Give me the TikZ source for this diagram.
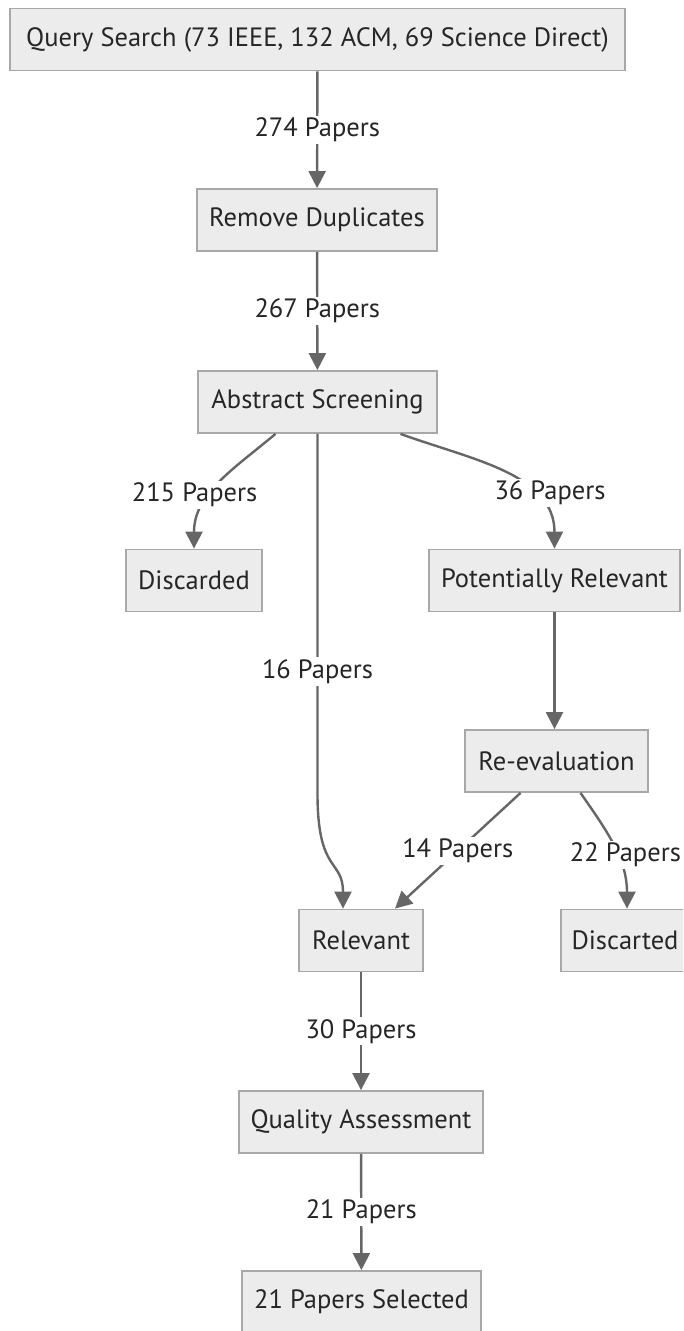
\documentclass[tikz,border=0pt]{standalone}
\usepackage{fontspec}
\setmainfont{PT Sans}
\usepackage{tikz}
\usetikzlibrary{arrows.meta,positioning}
\definecolor{boxfill}{HTML}{ECECEC}
\definecolor{boxline}{HTML}{A8A8A8}
\definecolor{edgegray}{HTML}{666666}

\begin{document}
\begin{tikzpicture}[x=1pt,y=-1pt,font=\fontsize{26.5}{30}\selectfont,
   box/.style={draw=boxline,line width=1.8pt,fill=boxfill,minimum height=62pt,
               inner xsep=0pt,align=center,text=black!85},
   arr/.style={draw=edgegray,line width=2.4pt,-{Triangle[length=17pt,width=17pt]}},
   lbl/.style={fill=white,inner sep=2pt,text=black!85}]
  \useasboundingbox (0,0) rectangle (683,1331);
  \clip (0,0) rectangle (683,1331);
  \node[box,minimum width=615pt] (qs) at (317.5,39.5) {Query Search (73 IEEE, 132 ACM, 69 Science Direct)};
  \node[box,minimum width=240pt] (rd) at (317,220) {Remove Duplicates};
  \node[box,minimum width=239pt] (as) at (317.5,402) {Abstract Screening};
  \node[box,minimum width=136pt] (dc1) at (194,580.5) {Discarded};
  \node[box,minimum width=251pt] (pr) at (554.5,580.5) {Potentially Relevant};
  \node[box,minimum width=183pt] (re) at (556.5,761) {Re-evaluation};
  \node[box,minimum width=124pt] (rel) at (361,940.5) {Relevant};
  \node[box,minimum width=128pt] (dc2) at (625,940.5) {Discarted};
  \node[box,minimum width=244pt] (qa) at (361,1122) {Quality Assessment};
  \node[box,minimum width=239pt] (sel) at (361.5,1302) {21 Papers Selected};

  \draw[arr] (qs) -- node[lbl]{274 Papers} (rd);
  \draw[arr] (rd) -- node[lbl]{267 Papers} (as);
  \draw[arr] ([xshift=-42pt]as.south) to[out=-140,in=90]
       node[lbl,pos=0.6,xshift=-16pt]{215 Papers} (dc1.north);
  \draw[arr] ([xshift=83pt]as.south) to[out=-20,in=90]
       node[lbl,pos=0.68,xshift=18pt]{36 Papers} (pr.north);
  \draw[arr] (as.south) -- node[lbl,pos=0.66]{16 Papers} +(0,360)
       .. controls +(0,80) and +(0,-50) .. ([xshift=-18pt]rel.north);
  \draw[arr] (pr.south) -- (pr.south |- re.north);
  \draw[arr] ([xshift=-36pt]re.south) -- node[lbl]{14 Papers} ([xshift=34pt]rel.north);
  \draw[arr] ([xshift=24pt]re.south) to[out=-55,in=90]
       node[lbl,pos=0.57,xshift=8pt]{22 Papers} ([xshift=2pt]dc2.north);
  \draw[arr] (rel) -- node[lbl]{30 Papers} (qa);
  \draw[arr] (qa) -- node[lbl]{21 Papers} (sel);
\end{tikzpicture}
\end{document}
